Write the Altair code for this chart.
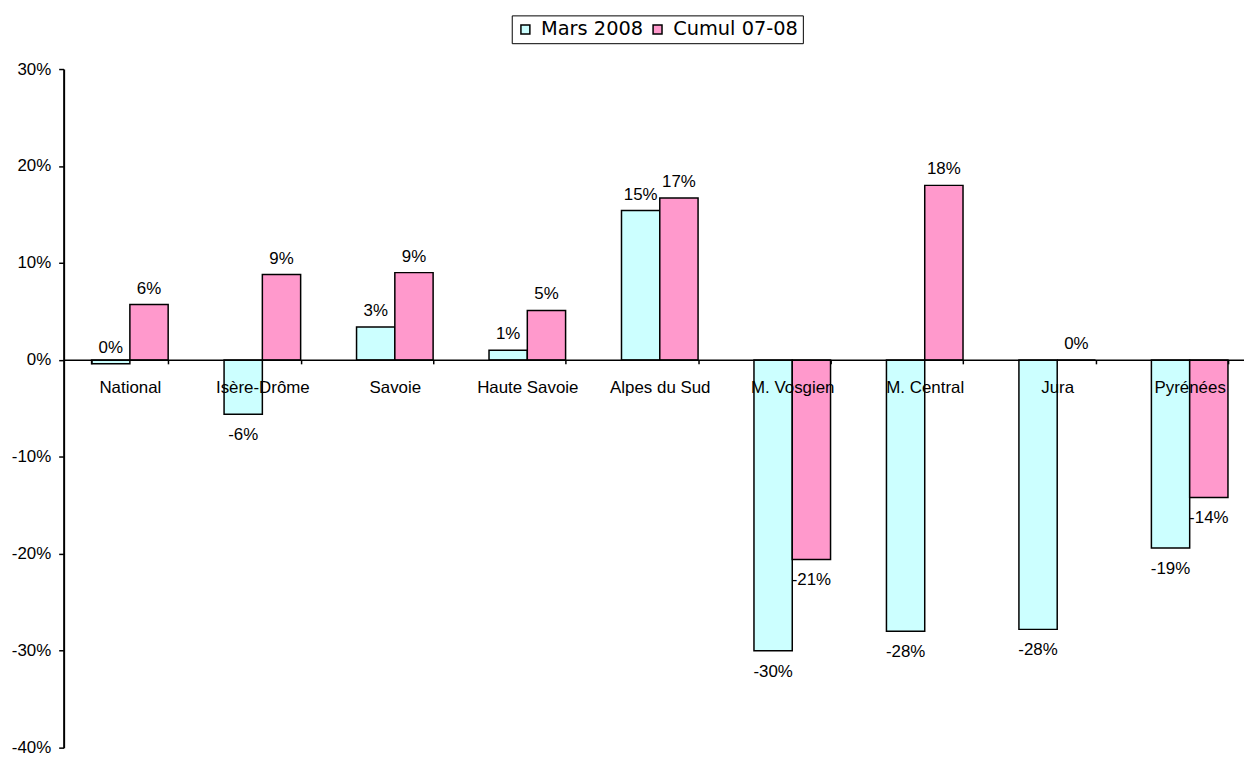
import altair as alt
import pandas as pd

categories = ["National", "Isère-Drôme", "Savoie", "Haute Savoie", "Alpes du Sud",
              "M. Vosgien", "M. Central", "Jura", "Pyrénées"]
series = ["Mars 2008", "Cumul 07-08"]
mars_2008 = [-0.4, -5.6, 3.4, 1.0, 15.4, -30.0, -28.0, -27.8, -19.4]
cumul_07_08 = [5.7, 8.8, 9.0, 5.1, 16.7, -20.6, 18.0, 0.0, -14.2]
y_ticks = [-40, -30, -20, -10, 0, 10, 20, 30]
colors = ["#CCFFFF", "#FF99CC"]

rows = []
for s, vals in zip(series, [mars_2008, cumul_07_08]):
    for c, v in zip(categories, vals):
        r = int(round(v))
        rows.append({"category": c, "series": s, "value": v,
                     "label": f"{r}%", "pos": r >= 0})
df = pd.DataFrame(rows)

FONT = "Liberation Sans"
FS = 17

x_enc = alt.X(
    "category:N", sort=categories,
    scale=alt.Scale(range=[0, 1200], paddingInner=0.422, paddingOuter=0.211),
    axis=alt.Axis(title=None, orient="bottom", offset=-390.3, tickBand="extent",
                  tickSize=4, tickColor="black", tickWidth=1.5,
                  domainColor="black", domainWidth=1.5,
                  labelFont=FONT, labelFontSize=FS, labelColor="black",
                  labelPadding=16, labelAngle=0, zindex=1),
)
y_enc = alt.Y(
    "value:Q",
    scale=alt.Scale(domain=[-40, 30], nice=False, zero=False),
    axis=alt.Axis(title=None, values=y_ticks, labelExpr="datum.value + '%'",
                  grid=False, tickSize=5, tickColor="black", tickWidth=1.5,
                  domainColor="black", domainWidth=2,
                  labelFont=FONT, labelFontSize=FS, labelColor="black",
                  labelPadding=8),
)
xo = alt.XOffset("series:N", sort=series)

base = alt.Chart(df)

bars = base.mark_bar(stroke="black", strokeWidth=1.5).encode(
    x=x_enc, xOffset=xo, y=y_enc,
    color=alt.Color("series:N", sort=series,
                    scale=alt.Scale(domain=series, range=colors),
                    legend=alt.Legend(title=None, orient="none", legendX=451, legendY=-54,
                                      direction="horizontal", strokeColor="black",
                                      fillColor="white", padding=4,
                                      symbolType="square", symbolSize=81,
                                      symbolStrokeColor="black", symbolStrokeWidth=1.5,
                                      labelFont="DejaVu Sans", labelFontSize=19.5,
                                      labelColor="black", labelOffset=6,
                                      columnPadding=4)),
)

text_pos = base.transform_filter("datum.pos").mark_text(
    font=FONT, fontSize=FS, color="black", baseline="middle", dy=-16
).encode(x=x_enc, xOffset=xo, y=y_enc, text="label:N")

text_neg = base.transform_filter("!datum.pos").mark_text(
    font=FONT, fontSize=FS, color="black", baseline="middle", dy=21
).encode(x=x_enc, xOffset=xo, y=y_enc, text="label:N")

chart = alt.layer(bars, text_pos, text_neg).properties(
    width=1186, height=683,
    padding={"left": 56, "top": 59, "right": 2, "bottom": 10},
    autosize=alt.AutoSizeParams(type="none"),
).configure_view(stroke=None)

chart.save("out.html", embed_options={"renderer": "svg", "actions": False})
